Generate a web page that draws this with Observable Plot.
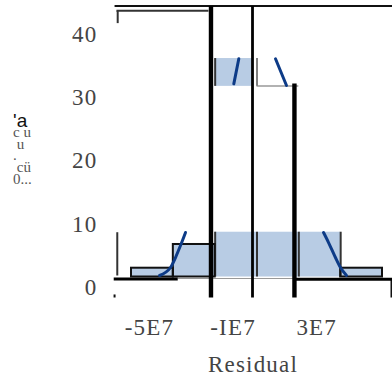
<!DOCTYPE html>
<html>
<head>
<meta charset="utf-8">
<script src="https://cdn.jsdelivr.net/npm/d3@7"></script>
<script src="https://cdn.jsdelivr.net/npm/@observablehq/plot@0.6"></script>
<style>
  html, body { margin: 0; padding: 0; background: #fff; }
  #wrap { position: relative; width: 392px; height: 382px; overflow: hidden; }
  #wrap svg text { letter-spacing: 1.2px; }
  #ytitle { position: absolute; left: 13px; top: 115px; white-space: pre; font-family: "Liberation Serif", serif;
            font-size: 15px; line-height: 11.8px; color: #555; }
  #ytitle::first-line { font-family: "Liberation Sans", Arial, sans-serif; font-size: 19px; color: #111; }
</style>
</head>
<body>
<div id="wrap"></div>
<script>
// ---- data ----
const binLo  = [-6e7, -4e7, -2e7, 0, 2e7, 4e7];
const binHi  = [-4e7, -2e7, 0, 2e7, 4e7, 6e7];
const counts = [3.05, 6.8, 8.74, 8.74, 8.74, 3.05];
const barBase = 1.66;

// detached upper fragment of the tall bar
const upperX = [-2e7, -0.2e7];
const upperY = [31.8, 36.2];
const upperEdgeX = 0;
const upperFloorY = 31.86;
const upperFloorX = [0, 2e7];

// visible pieces of the fitted normal curve
const curveSegment = ["a","a","a","a","a","b","b","c","c","d","d","d","d","d"];
const curveX = [-4.66e7, -4.135e7, -3.896e7, -3.657e7, -3.418e7, -1.109e7, -0.87e7, 0.884e7, 1.41e7, 3.18e7, 3.42e7, 3.75e7, 3.99e7, 4.28e7];
const curveY = [1.9, 3.16, 4.74, 6.64, 8.7, 32.2, 36.16, 36.16, 31.94, 8.7, 7.11, 4.74, 3.16, 1.9];

// stray frame lines [x1, y1, x2, y2]
const heavyLines  = [[-2.2e7, 44.5, -2.2e7, -1.58], [1.79e7, 32.25, 1.79e7, -1.58]];
const baseLines   = [[-6.85e7, 1.34, -3.79e7, 1.34], [1.75e7, 1.31, 6.48e7, 1.31]];
const midLines    = [[-0.215e7, 44.5, -0.215e7, -1.58]];
const thinLines   = [[-6.81e7, 44.5, 6.48e7, 44.5], [6.43e7, 1.31, 6.43e7, -1.58], [-6.81e7, -1.1, -6.81e7, -1.58]];
const darkLines   = [[-6.72e7, 43.75, -2.32e7, 43.75], [-6.66e7, 43.75, -6.66e7, 41.8], [-6.68e7, 8.74, -6.68e7, 1.9]];
const grayLines   = [[-3.79e7, 1.42, 1.75e7, 1.42]];

// ticks and labels
const yTickValues = [0, 10, 20, 30, 40];
const xTickValues = [-5e7, -1e7, 3e7];
const xTickLabels = ["-5E7", "-IE7", "3E7"];
const xTitle = "Residual";
const yTitleLines = ["'a", "c u", " u", ".", " cü", "0..."];

// ---- build tables ----
const bins = binLo.map((lo, i) => ({lo, hi: binHi[i], n: counts[i]}));
const outlinedBins = [0, 1, 5];
const flatEdges = [binLo[2], binLo[3], binLo[4], binHi[4]];
const curve = curveX.map((x, i) => ({x, y: curveY[i], s: curveSegment[i]}));
const seg = {x1: d => d[0], y1: d => d[1], x2: d => d[2], y2: d => d[3]};
const barFill = "#b8cce4";

const chart = Plot.plot({
  width: 392,
  height: 382,
  marginLeft: 113,
  marginRight: 0,
  marginTop: 0,
  marginBottom: 82,
  x: {domain: [-6e7, 6e7], range: [131, 382]},
  y: {domain: [0, 40], range: [287, 34]},
  style: {background: "white", color: "#444", fontFamily: "'Liberation Serif', 'Times New Roman', serif", overflow: "visible"},
  marks: [
    Plot.rect(bins, {x1: "lo", x2: "hi", y1: barBase, y2: "n", fill: barFill}),
    Plot.rect([0], {x1: upperX[0], x2: upperX[1], y1: upperY[0], y2: upperY[1], fill: barFill}),
    Plot.ruleX(flatEdges, {y1: barBase, y2: counts[2], stroke: "#333", strokeWidth: 2}),
    Plot.rect(outlinedBins.map(i => bins[i]), {x1: "lo", x2: "hi", y1: barBase, y2: "n", fill: "none", stroke: "#111", strokeWidth: 2}),
    Plot.ruleX([upperEdgeX], {y1: upperY[0], y2: upperY[1], stroke: "#555", strokeWidth: 1.5}),
    Plot.ruleY([upperFloorY], {x1: upperFloorX[0], x2: upperFloorX[1], stroke: "#666", strokeWidth: 1.2}),
    Plot.ruleX([upperX[0]], {y1: upperY[0], y2: upperY[1], stroke: "#333", strokeWidth: 2}),
    Plot.line(curve, {x: "x", y: "y", z: "s", stroke: "#0d3b87", strokeWidth: 3, curve: "monotone-x"}),
    Plot.link(grayLines, {...seg, stroke: "#999", strokeWidth: 1.2}),
    Plot.link(darkLines, {...seg, stroke: "#333", strokeWidth: 2}),
    Plot.link(thinLines, {...seg, stroke: "#111", strokeWidth: 2}),
    Plot.link(midLines, {...seg, stroke: "#000", strokeWidth: 2.8}),
    Plot.link(baseLines, {...seg, stroke: "#000", strokeWidth: 3}),
    Plot.link(heavyLines, {...seg, stroke: "#000", strokeWidth: 4.4}),
    Plot.axisY(yTickValues, {anchor: "left", tickSize: 0, tickPadding: 16, fontSize: 23, label: null}),
    Plot.axisX(xTickValues, {anchor: "bottom", tickSize: 0, tickPadding: 18, fontSize: 23, label: null, dx: -3,
      tickFormat: d => xTickLabels[xTickValues.indexOf(d)]}),
    Plot.text([xTitle], {frameAnchor: "bottom", lineAnchor: "bottom", dy: 71, fontSize: 23, fill: "#444"})
  ]
});

const wrap = document.getElementById("wrap");
wrap.appendChild(chart);

// garbled vertical axis title, kept as one text block
const yTitle = document.createElement("div");
yTitle.id = "ytitle";
yTitle.textContent = yTitleLines.join("\n");
wrap.appendChild(yTitle);
</script>
</body>
</html>
